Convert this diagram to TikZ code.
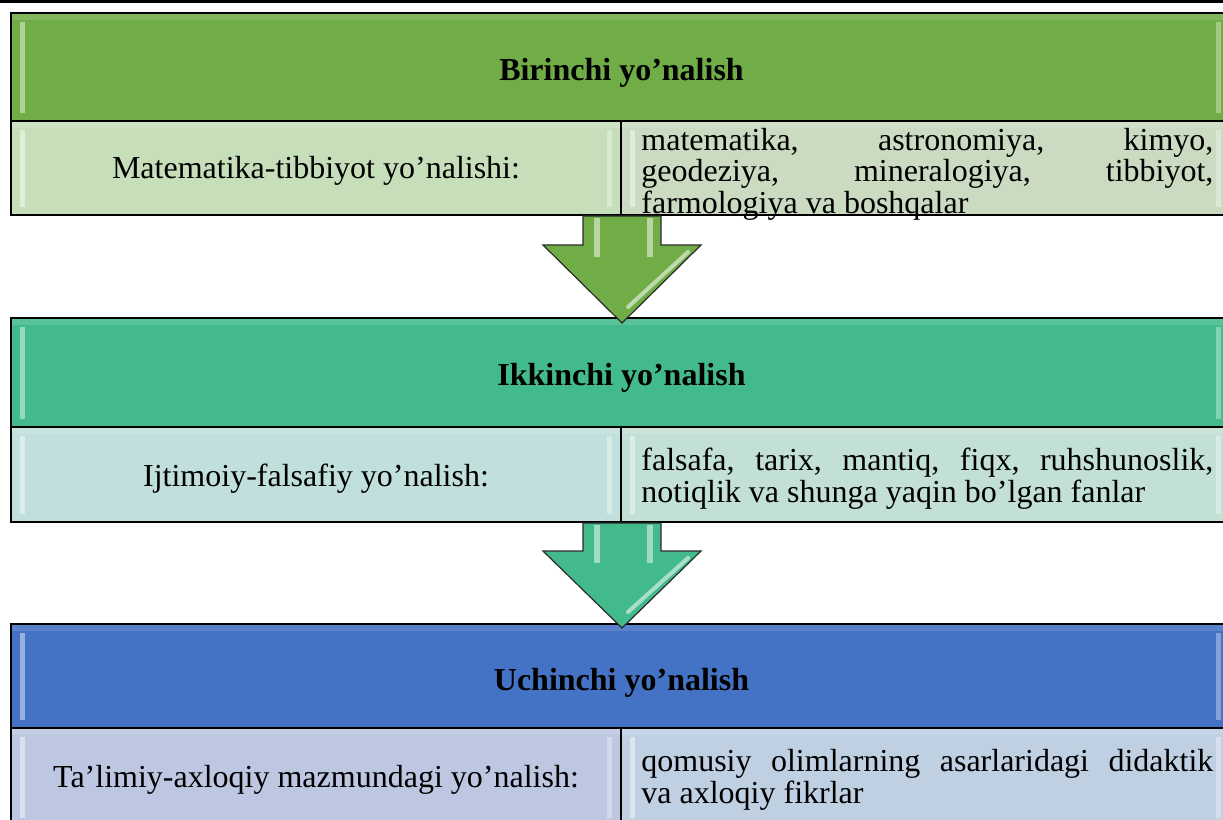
\documentclass[tikz,border=0pt]{standalone}
\usepackage{fontspec}
\setmainfont{Liberation Serif}
\usetikzlibrary{calc}
\definecolor{hA}{HTML}{70AD47}
\definecolor{sAL}{HTML}{C6DFBA}
\definecolor{sAR}{HTML}{CADBC1}
\definecolor{hB}{HTML}{42BA8B}
\definecolor{sBL}{HTML}{C1DFDC}
\definecolor{sBR}{HTML}{C3E0D4}
\definecolor{hC}{HTML}{4472C4}
\definecolor{sCL}{HTML}{BDC7E1}
\definecolor{sCR}{HTML}{BFD0E2}
\definecolor{arrline}{HTML}{2B2B2B}
\tikzset{
  cellbox/.style={draw=black, line width=0.8pt, inner sep=0pt, outer sep=0pt, anchor=north west},
  hdrtext/.style={inner sep=0pt, font=\fontsize{16}{16}\selectfont\bfseries},
  lefttext/.style={inner sep=0pt, font=\fontsize{16}{16}\selectfont},
  righttext/.style={inner sep=0pt, anchor=west, text width=286pt, align=justify, font=\fontsize{16}{16}\selectfont},
  blockarrow/.style={draw=arrline, line width=0.6pt, line join=miter},
  shine/.style={white, opacity=0.45},
}
% cell: name, x1, y1, x2, y2, colour  (pixel units)
\newcommand\mycell[6]{%
  \node[cellbox, fill=#6, minimum width={(#4-#2)*0.5pt}, minimum height={(#5-#3)*0.5pt}] (#1) at (#2,#3) {};
  \fill[shine] (#2+9,#3+9) rectangle (#2+14,#5-8);
  \fill[white, opacity=0.35] (#4-14,#3+9) rectangle (#4-9,#5-8);
  \fill[white, opacity=0.12] (#2+1,#3+1) rectangle (#4-1,#3+7);
}
% arrow: top y of shaft, shoulder y, tip y, colour
\newcommand\myarrow[4]{%
  \path[blockarrow, fill=#4] (583,#1) -- (661,#1) -- (661,#2) -- (701,#2) -- (622,#3) -- (543,#2) -- (583,#2) -- cycle;
  \fill[white, opacity=0.5] (594,#1+2) rectangle (600,#2+12);
  \fill[white, opacity=0.5] (647,#1+2) rectangle (653,#2+12);
  \draw[white, opacity=0.55, line width=2pt, line cap=round] (688,#2+7) -- (628,#3-16);
}
\begin{document}
\begin{tikzpicture}[x=0.5pt,y=-0.5pt]
\useasboundingbox (0,0) rectangle (1223,820);
\fill[black] (0,0) rectangle (1223,3);

% ---- block 1
\mycell{h1}{11}{13}{1230}{121}{hA}
\mycell{s1L}{11}{121}{621}{215}{sAL}
\mycell{s1R}{621}{121}{1230}{215}{sAR}
% ---- block 2
\mycell{h2}{11}{318}{1230}{427}{hB}
\mycell{s2L}{11}{427}{621}{522}{sBL}
\mycell{s2R}{621}{427}{1230}{522}{sBR}
% ---- block 3
\mycell{h3}{11}{624}{1230}{728}{hC}
\mycell{s3L}{11}{728}{621}{826}{sCL}
\mycell{s3R}{621}{728}{1230}{826}{sCR}

% ---- arrows
\myarrow{216}{245}{323}{hA}
\myarrow{523}{551}{628}{hB}

% ---- texts
\node[hdrtext] (t1) at (621.5,73) {Birinchi yo’nalish};
\node[lefttext] (l1) at ($(s1L.center)+(0,3)$) {Matematika-tibbiyot yo’nalishi:};
\node[righttext, font=\fontsize{16}{15.75}\selectfont] (r1) at ($(s1R.west)+(20,6)$) {matematika, astronomiya, kimyo,\linebreak geodeziya, mineralogiya, tibbiyot,\linebreak farmologiya va boshqalar};

\node[hdrtext] (t2) at (621.5,378) {Ikkinchi yo’nalish};
\node[lefttext] (l2) at ($(s2L.center)+(0,4)$) {Ijtimoiy-falsafiy yo’nalish:};
\node[righttext] (r2) at ($(s2R.west)+(20,4)$) {falsafa, tarix, mantiq, fiqx, ruhshunoslik,\linebreak notiqlik va shunga yaqin bo’lgan fanlar};

\node[hdrtext] (t3) at (621.5,683) {Uchinchi yo’nalish};
\node[lefttext] (l3) at ($(s3L.center)+(0,3)$) {Ta’limiy-axloqiy mazmundagi yo’nalish:};
\node[righttext] (r3) at ($(s3R.west)+(20,3)$) {qomusiy olimlarning asarlaridagi didaktik\linebreak va axloqiy fikrlar};
\end{tikzpicture}
\end{document}
